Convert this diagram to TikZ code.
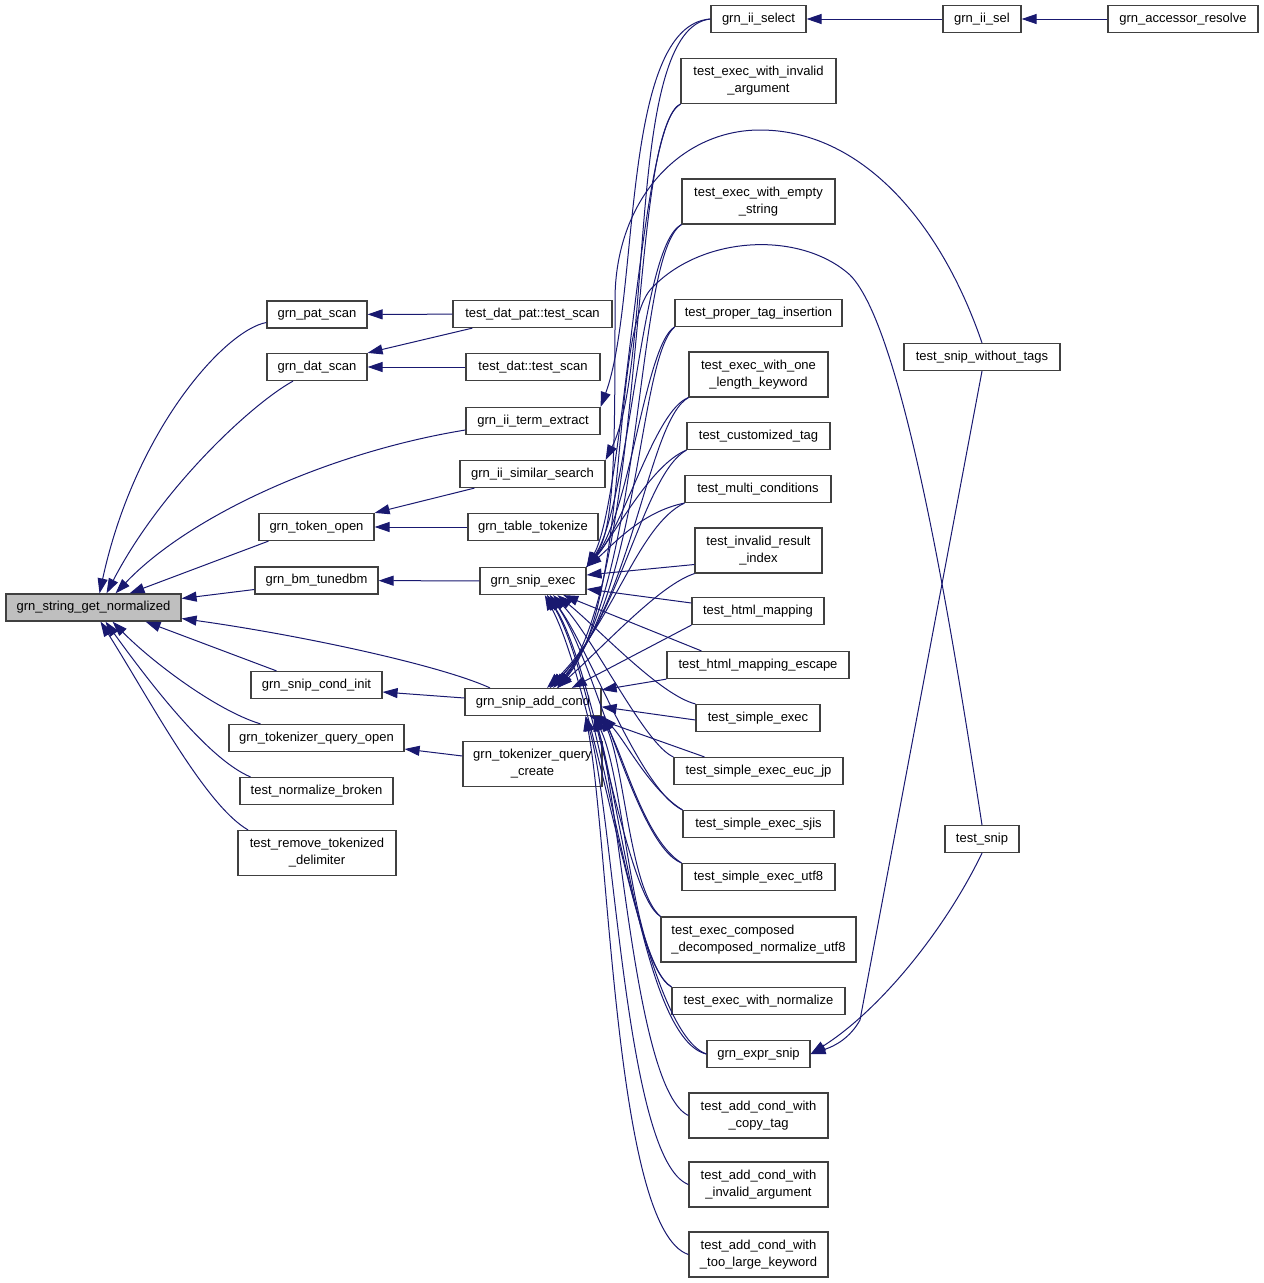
\documentclass[tikz,border=0pt]{standalone}
\usepackage{fontspec}
\setmainfont{Liberation Sans}
\usetikzlibrary{arrows.meta}
\definecolor{callcol}{RGB}{25,25,112}
\definecolor{boxcol}{RGB}{64,64,64}
\definecolor{rootfill}{RGB}{191,191,191}
\tikzstyle{fn}=[draw=boxcol, line width=1.2pt, rectangle, minimum height=27pt, inner sep=0pt, align=center, font=\fontsize{13pt}{17pt}\selectfont]
\tikzstyle{fnn}=[fn, minimum height=45pt]
\tikzstyle{call}=[->, >={Triangle[length=15pt,width=10pt]}, color=callcol, line width=1pt]

\begin{document}
\begin{tikzpicture}[x=1pt, y=-1pt]
\useasboundingbox (0,0) rectangle (1264,1283);

\node[fn, minimum width=175pt, fill=rootfill] (gsgn) at (93.5,607.5) {grn\_string\_get\_normalized};

\node[fn, minimum width=100pt]  (patscan)    at (317,314.5) {grn\_pat\_scan};
\node[fn, minimum width=100pt]  (datscan)    at (317,367)   {grn\_dat\_scan};
\node[fn, minimum width=115pt]  (tokopen)    at (316.5,527) {grn\_token\_open};
\node[fn, minimum width=123pt]  (bmtuned)    at (316.5,580.5) {grn\_bm\_tunedbm};
\node[fn, minimum width=131pt]  (condinit)   at (316.5,685) {grn\_snip\_cond\_init};
\node[fn, minimum width=175pt]  (tqopen)     at (316.5,738) {grn\_tokenizer\_query\_open};
\node[fn, minimum width=153pt]  (normbroken) at (316.5,791) {test\_normalize\_broken};
\node[fnn, minimum width=158pt] (rmdelim)    at (317,853)   {test\_remove\_tokenized\\\_delimiter};

\node[fn, minimum width=159pt]  (tdpscan)    at (532.5,314) {test\_dat\_pat::test\_scan};
\node[fn, minimum width=134pt]  (tdscan)     at (533,367)   {test\_dat::test\_scan};
\node[fn, minimum width=134pt]  (termext)    at (533,421)   {grn\_ii\_term\_extract};
\node[fn, minimum width=145pt]  (simsearch)  at (532.5,474) {grn\_ii\_similar\_search};
\node[fn, minimum width=130pt]  (tabletok)   at (533,527)   {grn\_table\_tokenize};
\node[fn, minimum width=106pt]  (snipexec)   at (533,581)   {grn\_snip\_exec};
\node[fn, minimum width=136pt]  (addcond)    at (533,702)   {grn\_snip\_add\_cond};
\node[fnn, minimum width=139pt] (tqcreate)   at (532.5,764) {grn\_tokenizer\_query\\\_create};

\node[fn, minimum width=95pt]   (iiselect)   at (758.5,19)    {grn\_ii\_select};
\node[fnn, minimum width=155pt] (ivarg)      at (758.5,81)    {test\_exec\_with\_invalid\\\_argument};
\node[fnn, minimum width=153pt] (emptystr)   at (758.5,201.5) {test\_exec\_with\_empty\\\_string};
\node[fn, minimum width=167pt]  (propertag)  at (758.5,313)   {test\_proper\_tag\_insertion};
\node[fnn, minimum width=139pt] (onelen)     at (758.5,374.5) {test\_exec\_with\_one\\\_length\_keyword};
\node[fn, minimum width=143pt]  (customtag)  at (758.5,436)   {test\_customized\_tag};
\node[fn, minimum width=146pt]  (multicond)  at (758,489)     {test\_multi\_conditions};
\node[fnn, minimum width=127pt] (invres)     at (758.5,550.5) {test\_invalid\_result\\\_index};
\node[fn, minimum width=132pt]  (html)       at (758,611)     {test\_html\_mapping};
\node[fn, minimum width=182pt]  (htmlesc)    at (758,665)     {test\_html\_mapping\_escape};
\node[fn, minimum width=124pt]  (simple)     at (758,718)     {test\_simple\_exec};
\node[fn, minimum width=169pt]  (eucjp)      at (758.5,771)   {test\_simple\_exec\_euc\_jp};
\node[fn, minimum width=151pt]  (sjis)       at (758.5,824)   {test\_simple\_exec\_sjis};
\node[fn, minimum width=153pt]  (utf8)       at (758.5,877)   {test\_simple\_exec\_utf8};
\node[fnn, minimum width=195pt, align=left] (composed) at (758.5,939.5) {test\_exec\_composed\\\_decomposed\_normalize\_utf8};
\node[fn, minimum width=173pt]  (normexec)   at (758.5,1001)  {test\_exec\_with\_normalize};
\node[fn, minimum width=103pt]  (exprsnip)   at (758.5,1054)  {grn\_expr\_snip};
\node[fnn, minimum width=139pt] (addcopy)    at (758.5,1115.5) {test\_add\_cond\_with\\\_copy\_tag};
\node[fnn, minimum width=139pt] (addinv)     at (758.5,1184.5) {test\_add\_cond\_with\\\_invalid\_argument};
\node[fnn, minimum width=139pt] (addlarge)   at (758.5,1254.5) {test\_add\_cond\_with\\\_too\_large\_keyword};

\node[fn, minimum width=78pt]   (iisel)      at (982,19)    {grn\_ii\_sel};
\node[fn, minimum width=156pt]  (nosnip)     at (982,357)   {test\_snip\_without\_tags};
\node[fn, minimum width=74pt]   (tsnip)      at (982,839)   {test\_snip};
\node[fn, minimum width=150pt]  (accres)     at (1183,19)   {grn\_accessor\_resolve};

\path[call]
  (accres) edge (iisel)
  (iisel) edge (iiselect)
  (tdpscan) edge (patscan)
  ([xshift=20pt]tdpscan.south west) edge (datscan.north east)
  (tdscan) edge (datscan)
  ([xshift=15pt]simsearch.south west) edge (tokopen.north east)
  (tabletok) edge (tokopen)
  (snipexec) edge (bmtuned)
  ([yshift=4pt]addcond.west) edge ([yshift=-7pt]condinit.east)
  ([yshift=8pt]tqcreate.west) edge ([yshift=-11pt]tqopen.east)
  ([xshift=-48pt]tokopen.south) edge ([xshift=36pt]gsgn.north)
  ([yshift=-9pt]bmtuned.west) edge ([yshift=9pt]gsgn.east)
  ([xshift=-40pt]condinit.north) edge ([xshift=52pt]gsgn.south)
  ([yshift=-14pt]invres.west) edge ([yshift=6pt]snipexec.east)
  ([yshift=8pt]html.west) edge ([yshift=-8pt]snipexec.east)
  (html.south west) edge (addcond.20)
  ([xshift=35pt]htmlesc.north west) edge (snipexec.-25)
  (htmlesc.south west) edge (addcond.10)
  ([yshift=-2pt]simple.west) edge (addcond.-4)
  ([xshift=31pt]eucjp.north west) edge (addcond.-14);

\draw[call] ([yshift=-8pt]patscan.west) .. controls (225,330) and (135,430) .. ([xshift=6pt]gsgn.north);
\draw[call] ([xshift=-24pt]datscan.south) .. controls (250,405) and (160,490) .. ([xshift=13pt]gsgn.north);
\draw[call] ([yshift=-9pt]termext.west) .. controls (330,452) and (190,515) .. ([xshift=22pt]gsgn.north);
\draw[call] ([xshift=-43pt]addcond.north) .. controls (440,665) and (300,635) .. ([yshift=-11pt]gsgn.east);
\draw[call] ([xshift=-56pt]tqopen.north) .. controls (215,710) and (150,660) .. ([xshift=19pt]gsgn.south);
\draw[call] ([xshift=-66pt]normbroken.north) .. controls (210,760) and (155,690) .. ([xshift=12pt]gsgn.south);
\draw[call] ([xshift=-69pt]rmdelim.north) .. controls (205,805) and (150,700) .. ([xshift=7pt]gsgn.south);

\draw[call] (iiselect.west) .. controls (620,25) and (640,300) .. (termext.north east);
\draw[call] (iiselect.west) .. controls (625,28) and (655,360) .. (simsearch.north east);

\foreach \src/\ax/\ay/\bx/\by/\dst in {
  ivarg.south west/640/120/625/500/snipexec.north east,
  emptystr.south west/640/245/630/505/snipexec.north east,
  propertag.south west/645/345/630/515/snipexec.north east,
  onelen.south west/655/410/625/525/snipexec.north east,
  customtag.south west/650/465/615/535/snipexec.north east,
  multicond.south west/640/512/610/548/snipexec.north east,
  simple.north west/660/695/600/630/snipexec.-30,
  eucjp.north west/645/745/595/640/snipexec.-35,
  sjis.north west/640/790/590/650/snipexec.-40,
  utf8.north west/635/845/595/660/snipexec.-40,
  composed.north west/625/895/595/670/snipexec.-45,
  normexec.north west/630/965/600/685/snipexec.-45,
  exprsnip.west/640/1030/600/700/snipexec.-50,
  ivarg.south west/628/135/648/560/addcond.30,
  emptystr.south west/635/255/645/575/addcond.30,
  propertag.south west/638/360/640/595/addcond.35,
  onelen.south west/648/420/633/605/addcond.40,
  customtag.south west/643/475/622/615/addcond.40,
  multicond.south west/638/525/612/625/addcond.45,
  invres.south west/660/585/610/640/addcond.30,
  sjis.north west/650/790/625/740/addcond.south east,
  utf8.north west/645/840/625/760/addcond.south east,
  composed.north west/630/890/625/770/addcond.south east,
  normexec.north west/630/960/625/780/addcond.-13,
  exprsnip.west/645/1040/620/800/addcond.-13,
  addcopy.west/635/1090/620/800/addcond.-13,
  addinv.west/625/1160/615/820/addcond.-15,
  addlarge.west/615/1230/610/850/addcond.-15}
  \draw[call] (\src) .. controls (\ax,\ay) and (\bx,\by) .. (\dst);

\draw[call] (nosnip.north) .. controls (940,220) and (860,130) .. (760,130)
  .. controls (680,130) and (615,200) .. (615,300)
  .. controls (615,450) and (615,530) .. (snipexec.north east);
\draw[call] (tsnip.north) .. controls (955,650) and (905,330) .. (850,275)
  .. controls (800,230) and (700,235) .. (650,290)
  .. controls (610,340) and (630,600) .. ([xshift=25pt]addcond.north);
\draw[call] (nosnip.south) -- (860,1020) .. controls (850,1038) and (835,1046) .. (exprsnip.east);
\draw[call] (tsnip.south) .. controls (945,930) and (880,1010) .. (exprsnip.east);
\end{tikzpicture}
\end{document}
